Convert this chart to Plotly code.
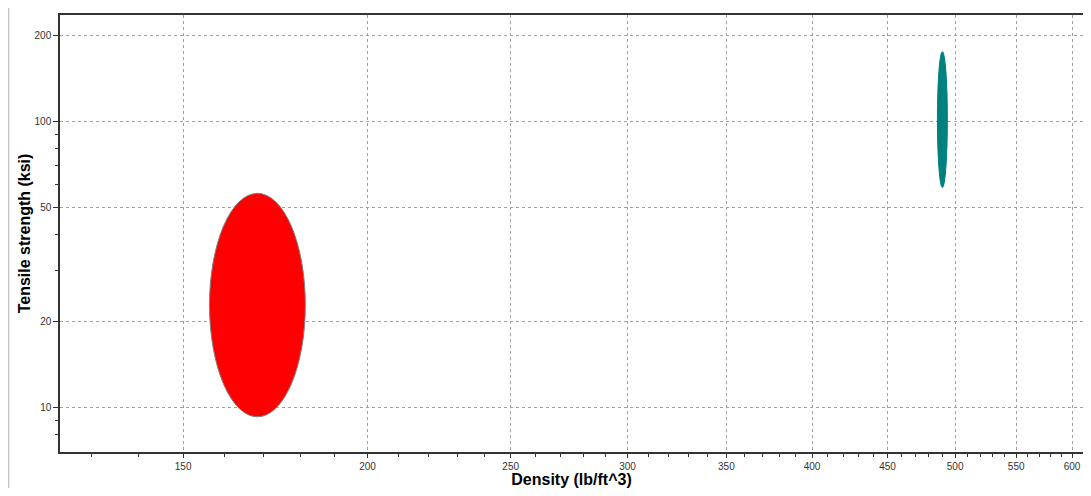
import plotly.graph_objects as go

# Data: material property ranges (ellipses)
materials = ["Aluminum", "Steel"]
density_min = [156.3, 486.4]
density_max = [181.5, 494.0]
strength_min = [9.25, 58.6]
strength_max = [55.9, 174.8]
fill_colors = ["#FF0000", "#008080"]
line_colors = ["#808080", "#008080"]

x_tickvals = [150, 200, 250, 300, 350, 400, 450, 500, 550, 600]
x_minor = [130, 140, 160, 170, 180, 190, 210, 220, 230, 240, 260, 270, 280, 290,
           310, 320, 330, 340, 360, 370, 380, 390, 410, 420, 430, 440,
           460, 470, 480, 490, 510, 520, 530, 540, 560, 570, 580, 590]
y_tickvals = [10, 20, 50, 100, 200]
y_minor = [8, 9, 30, 40, 60, 70, 80, 90]

fig = go.Figure()

shapes = []
for i in range(len(materials)):
    shapes.append(dict(
        type="circle", xref="x", yref="y",
        x0=density_min[i], x1=density_max[i],
        y0=strength_min[i], y1=strength_max[i],
        fillcolor=fill_colors[i],
        line=dict(color=line_colors[i], width=1),
        layer="above",
    ))
# page border line on the left
shapes.append(dict(type="line", xref="paper", yref="paper",
                   x0=-0.0504, x1=-0.0504, y0=-0.092, y1=1.04,
                   line=dict(color="#c8c8c8", width=2)))

fig.add_trace(go.Scatter(
    x=[(a * b) ** 0.5 for a, b in zip(density_min, density_max)],
    y=[(a * b) ** 0.5 for a, b in zip(strength_min, strength_max)],
    mode="markers", marker=dict(opacity=0), text=materials,
    hoverinfo="text", showlegend=False,
))

font_family = "Arial, Liberation Sans, sans-serif"
fig.update_layout(
    width=1075, height=480,
    margin=dict(l=52, r=0, t=7, b=36),
    paper_bgcolor="white", plot_bgcolor="white",
    font=dict(family=font_family, size=10, color="#333333"),
    shapes=shapes,
    showlegend=False,
    xaxis=dict(
        type="log",
        range=[2.0927, 2.7856],
        tickmode="array", tickvals=x_tickvals, ticktext=[str(v) for v in x_tickvals],
        ticks="outside", ticklen=4, tickcolor="#333333",
        showline=True, linecolor="#333333", linewidth=1.5, mirror=True,
        showgrid=True, gridcolor="#a0a0a0", griddash="3px,3px", gridwidth=1,
        zeroline=False,
        minor=dict(tickmode="array", tickvals=x_minor, ticks="outside",
                   ticklen=3, tickcolor="#333333", showgrid=False),
        title=dict(text="<b>Density (lb/ft^3)</b>",
                   font=dict(size=16, color="#000000", family=font_family),
                   standoff=3),
        automargin=False,
    ),
    yaxis=dict(
        type="log",
        range=[0.843, 2.371],
        tickmode="array", tickvals=y_tickvals, ticktext=[str(v) for v in y_tickvals],
        ticks="outside", ticklen=5, tickcolor="#333333",
        showline=True, linecolor="#333333", linewidth=1.5, mirror=False,
        showgrid=True, gridcolor="#a0a0a0", griddash="3px,3px", gridwidth=1,
        zeroline=False,
        minor=dict(tickmode="array", tickvals=y_minor, ticks="outside",
                   ticklen=3, tickcolor="#333333", showgrid=False),
        title=dict(text="<b>Tensile strength (ksi)</b>",
                   font=dict(size=16, color="#000000", family=font_family),
                   standoff=0),
        automargin=False,
    ),
)

fig.write_html("out.html")
